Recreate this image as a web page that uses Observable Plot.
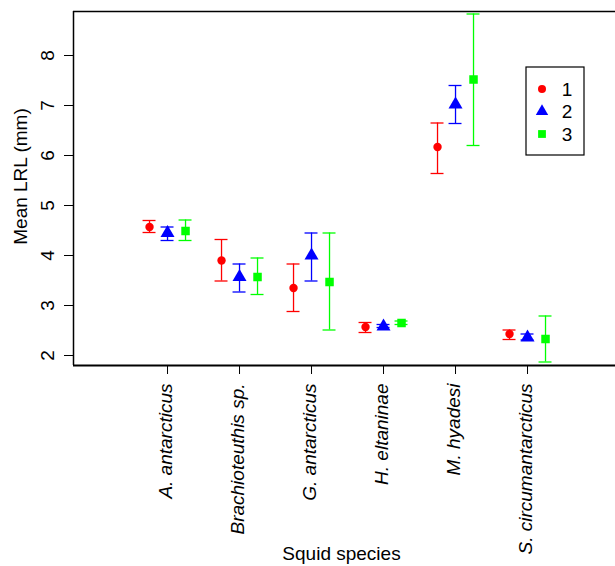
<!DOCTYPE html>
<html>
<head>
<meta charset="utf-8">
<script src="https://cdn.jsdelivr.net/npm/d3@7"></script>
<script src="https://cdn.jsdelivr.net/npm/@observablehq/plot@0.6"></script>
<style>
  html, body { margin: 0; padding: 0; background: #fff; }
  svg { display: block; }
</style>
</head>
<body>
<div id="chart"></div>
<script>
const species = ["A. antarcticus", "Brachioteuthis sp.", "G. antarcticus", "H. eltaninae", "M. hyadesi", "S. circumantarcticus"];
const groups = ["1", "2", "3"];
const mean1 = [4.57, 3.90, 3.35, 2.57, 6.17, 2.43];
const lo1   = [4.46, 3.49, 2.88, 2.46, 5.64, 2.32];
const hi1   = [4.70, 4.32, 3.83, 2.66, 6.65, 2.51];
const mean2 = [4.45, 3.57, 4.00, 2.58, 7.02, 2.36];
const lo2   = [4.30, 3.27, 3.49, 2.56, 6.64, 2.31];
const hi2   = [4.57, 3.83, 4.45, 2.62, 7.40, 2.43];
const mean3 = [4.49, 3.57, 3.47, 2.65, 7.52, 2.33];
const lo3   = [4.30, 3.22, 2.51, 2.62, 6.20, 1.87];
const hi3   = [4.71, 3.95, 4.45, 2.69, 8.83, 2.79];
const yTicks = [2, 3, 4, 5, 6, 7, 8];

const colors = ["#FF0000", "#0000FF", "#00FF00"];
const symbols = ["circle", "triangle", "square"];
const radii = [4.2, 5.2, 4.8];
const offsets = [-0.25, 0, 0.25];
const capHalf = 0.09;

const series = [[mean1, lo1, hi1], [mean2, lo2, hi2], [mean3, lo3, hi3]];
const rows = [];
series.forEach(([m, lo, hi], g) => {
  species.forEach((s, i) => {
    rows.push({species: s, idx: i, group: groups[g], g, x: i + offsets[g], mean: m[i], lo: lo[i], hi: hi[i]});
  });
});

const font = "'Liberation Sans', Arial, Helvetica, sans-serif";
const xDomain = [-1.306, 6.222];
const yDomain = [1.8, 8.88];
const noLabel = () => "";

const marks = [
  // box (left, top, bottom)
  Plot.ruleX([xDomain[0]], {stroke: "#000", strokeWidth: 1.5}),
  Plot.ruleY([yDomain[1]], {stroke: "#000", strokeWidth: 1.3}),
  Plot.ruleY([yDomain[0]], {stroke: "#000", strokeWidth: 1.8}),
  // axes ticks
  Plot.axisY({ticks: yTicks, tickSize: 9, tickFormat: noLabel, label: null, stroke: "#000", strokeWidth: 1}),
  Plot.text(yTicks, {x: xDomain[0], y: d => d, text: d => String(d), rotate: -90, dx: -20, textAnchor: "middle", lineAnchor: "bottom", fontSize: 19, fill: "#000"}),
  Plot.axisX({ticks: d3.range(species.length), tickSize: 9, tickFormat: noLabel, label: null, stroke: "#000", strokeWidth: 1}),
  Plot.text(species, {x: (d, i) => i, y: yDomain[0], text: d => d, rotate: -90, dy: 18, dx: -2, textAnchor: "end", lineAnchor: "middle", fontSize: 19, fontStyle: "italic", fill: "#000"}),
  // axis titles
  Plot.text(["Squid species"], {frameAnchor: "bottom", text: d => d, dy: 194, dx: -3, lineAnchor: "bottom", fontSize: 19, fill: "#000"}),
  Plot.text(["Mean LRL (mm)"], {frameAnchor: "left", text: d => d, rotate: -90, dx: -47, dy: -12, lineAnchor: "bottom", textAnchor: "middle", fontSize: 19, fill: "#000"})
];

groups.forEach((gName, g) => {
  const data = rows.filter(r => r.g === g);
  marks.push(
    Plot.ruleX(data, {x: "x", y1: "lo", y2: "hi", stroke: colors[g], strokeWidth: 1.3}),
    Plot.ruleY(data, {y: "lo", x1: d => d.x - capHalf, x2: d => d.x + capHalf, stroke: colors[g], strokeWidth: 1.3}),
    Plot.ruleY(data, {y: "hi", x1: d => d.x - capHalf, x2: d => d.x + capHalf, stroke: colors[g], strokeWidth: 1.3}),
    Plot.dot(data, {x: "x", y: "mean", symbol: () => symbols[g], r: radii[g], fill: colors[g], stroke: "none"})
  );
});

const chart = Plot.plot({
  width: 615,
  height: 566,
  marginLeft: 73,
  marginTop: 11,
  marginBottom: 201,
  marginRight: 0,
  style: {fontFamily: font, background: "#fff"},
  x: {type: "linear", domain: xDomain, axis: null},
  y: {type: "linear", domain: yDomain, axis: null},
  symbol: {type: "identity"},
  marks
});

document.getElementById("chart").appendChild(chart);

// legend box inside the plot
const svg = d3.select(chart);
const lg = svg.append("g").attr("font-family", font).attr("font-size", 19);
lg.append("rect").attr("x", 526).attr("y", 67).attr("width", 58).attr("height", 88)
  .attr("fill", "#fff").attr("stroke", "#000").attr("stroke-width", 1.2);
const symGen = [d3.symbolCircle, d3.symbolTriangle, d3.symbolSquare];
const legR = [4, 4.6, 4.4];
groups.forEach((gName, g) => {
  const cy = 89 + g * 22.5;
  lg.append("path").attr("d", d3.symbol(symGen[g], legR[g] * legR[g] * Math.PI)())
    .attr("transform", `translate(542,${cy})`).attr("fill", colors[g]);
  lg.append("text").attr("x", 567).attr("y", cy).attr("dy", "0.35em").attr("fill", "#000").text(gName);
});
</script>
</body>
</html>
